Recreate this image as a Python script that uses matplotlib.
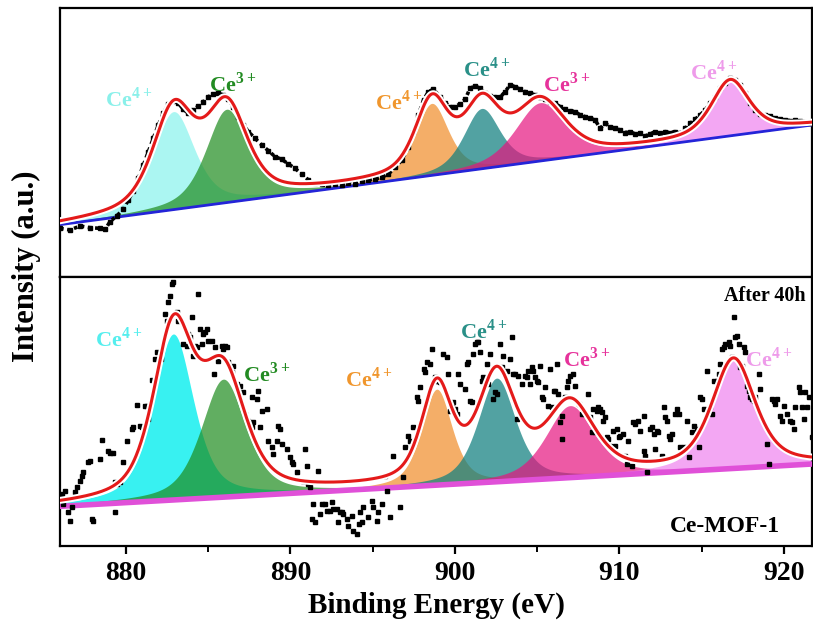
import numpy as np
import matplotlib
matplotlib.use('Agg')
import matplotlib.pyplot as plt
import matplotlib.patheffects as pe

plt.rcParams['font.family'] = ['Liberation Serif', 'DejaVu Serif']
plt.rcParams['font.weight'] = 'bold'
plt.rcParams['mathtext.fontset'] = 'custom'
plt.rcParams['mathtext.rm'] = 'Liberation Serif'
plt.rcParams['mathtext.bf'] = 'Liberation Serif:bold'

# ---------------- data (binding energy in eV, intensity in a.u.) ----------------
x_ends = [876.0, 921.7]

# upper panel: measured points
top_x = [876.00, 876.61, 877.22, 877.82, 878.43, 878.74, 879.04, 879.44, 879.85, 880.15,
         880.46, 880.76, 881.07, 881.37, 881.67, 881.98, 882.28, 882.58, 882.89, 883.19,
         883.50, 883.80, 884.10, 884.41, 884.71, 885.02, 885.32, 885.62, 885.93, 886.23,
         886.54, 886.84, 887.14, 887.45, 887.85, 888.26, 888.66, 889.07, 889.47, 889.88,
         890.28, 890.69, 891.10, 891.50, 891.91, 892.31, 892.72, 893.12, 893.53, 893.93,
         894.34, 894.74, 895.15, 895.55, 895.96, 896.36, 896.77, 897.17, 897.48, 897.78,
         898.09, 898.39, 898.69, 899.10, 899.40, 899.71, 900.01, 900.31, 900.62, 900.92,
         901.23, 901.53, 901.83, 902.14, 902.44, 902.74, 903.05, 903.35, 903.66, 903.96,
         904.26, 904.57, 904.87, 905.18, 905.48, 905.78, 906.09, 906.39, 906.70, 907.00,
         907.30, 907.61, 907.91, 908.22, 908.52, 908.82, 909.13, 909.43, 909.74, 910.04,
         910.34, 910.65, 910.95, 911.26, 911.56, 911.86, 912.17, 912.47, 912.78, 913.08,
         913.38, 913.69, 913.99, 914.30, 914.60, 914.90, 915.21, 915.51, 915.82, 916.12,
         916.42, 916.73, 917.03, 917.33, 917.64, 917.94, 918.25, 918.55, 918.85, 919.16,
         919.46, 919.77, 920.07, 920.38, 920.68, 920.98, 921.29, 921.59]
top_y = [146, 141, 153, 148, 146, 143, 166, 183, 203, 231,
         259, 296, 336, 376, 416, 456, 491, 518, 529, 521,
         503, 491, 501, 513, 526, 541, 549, 551, 546, 533,
         511, 481, 456, 436, 416, 396, 379, 361, 353, 339,
         326, 308, 291, 283, 279, 276, 279, 276, 283, 279,
         289, 291, 294, 299, 309, 329, 351, 389, 436, 486,
         531, 556, 563, 541, 523, 511, 511, 519, 533, 566,
         573, 566, 551, 543, 541, 539, 556, 576, 571, 563,
         556, 551, 546, 541, 533, 526, 521, 511, 503, 499,
         496, 486, 481, 476, 471, 446, 461, 451, 446, 441,
         433, 436, 429, 431, 423, 429, 436, 431, 436, 433,
         436, 431, 446, 461, 473, 486, 501, 521, 541, 566,
         583, 596, 591, 576, 551, 521, 501, 489, 486, 483,
         476, 473, 471, 469, 471, 468, 466, 461]

# lower panel: measured points
bot_x = [876.10, 876.30, 876.20, 876.51, 876.61, 876.71, 876.91, 877.01, 877.22, 877.32,
         877.42, 877.72, 877.82, 877.92, 878.03, 878.43, 878.53, 878.94, 879.04, 879.24,
         879.34, 879.34, 879.44, 879.65, 879.85, 880.05, 880.36, 880.46, 880.66, 880.86,
         880.96, 881.17, 881.27, 881.37, 881.57, 881.77, 881.88, 882.14, 882.38, 882.48,
         882.58, 882.69, 882.79, 882.89, 883.09, 883.19, 883.29, 883.50, 883.70, 883.80,
         883.90, 884.00, 884.10, 884.21, 884.31, 884.41, 884.51, 884.61, 884.71, 884.81,
         884.92, 885.02, 885.22, 885.38, 885.42, 885.62, 885.83, 885.93, 886.03, 886.13,
         886.23, 886.44, 886.54, 886.74, 886.94, 887.14, 887.25, 887.45, 887.65, 887.65,
         887.96, 888.06, 888.26, 888.56, 887.75, 888.16, 889.27, 889.37, 888.66, 888.87,
         888.97, 889.17, 889.47, 889.78, 889.98, 890.08, 890.18, 890.39, 890.79, 890.89,
         890.99, 891.10, 891.20, 891.70, 891.30, 891.40, 891.50, 891.81, 891.91, 892.11,
         892.21, 892.41, 892.51, 892.62, 892.82, 892.92, 893.02, 893.12, 893.22, 893.43,
         893.53, 893.73, 893.83, 894.03, 894.14, 894.24, 894.34, 894.44, 894.74, 894.95,
         895.05, 895.25, 895.35, 895.55, 895.76, 895.86, 896.06, 896.26, 896.67, 896.87,
         896.97, 897.17, 897.28, 897.48, 897.68, 897.78, 897.88, 898.09, 898.19, 898.29,
         898.49, 898.59, 898.80, 898.90, 899.00, 899.10, 899.30, 899.50, 899.60, 899.70,
         899.81, 899.91, 900.01, 900.11, 900.21, 900.31, 900.62, 900.72, 900.82, 900.92,
         901.02, 901.12, 901.22, 901.32, 901.43, 901.53, 901.63, 901.73, 901.83, 901.93,
         902.03, 902.14, 902.34, 902.44, 902.54, 902.74, 902.84, 902.95, 903.15, 903.35,
         903.45, 903.55, 903.66, 903.76, 903.86, 904.06, 904.26, 904.36, 904.47, 904.57,
         904.67, 904.77, 904.87, 904.97, 905.07, 905.18, 905.28, 905.38, 905.48, 905.68,
         905.78, 905.88, 905.99, 906.09, 906.19, 906.29, 906.39, 906.49, 906.49, 906.69,
         906.80, 906.90, 907.00, 907.20, 907.30, 907.51, 907.71, 907.91, 908.11, 908.21,
         908.32, 908.42, 908.52, 908.62, 908.72, 908.82, 908.92, 909.02, 909.13, 909.23,
         909.33, 909.43, 909.53, 909.63, 909.73, 909.84, 909.94, 910.04, 910.24, 910.34,
         910.44, 910.54, 910.75, 910.85, 910.95, 911.15, 911.25, 911.46, 911.46, 911.56,
         911.67, 911.87, 911.97, 912.07, 912.17, 912.27, 912.37, 912.58, 912.68, 912.78,
         912.88, 912.98, 913.08, 913.18, 913.39, 913.49, 913.59, 913.69, 913.89, 914.10,
         914.20, 914.40, 914.50, 914.70, 914.81, 914.91, 915.01, 915.11, 915.31, 915.51,
         915.62, 915.72, 915.92, 916.02, 916.12, 916.22, 916.33, 916.43, 916.63, 916.73,
         916.83, 916.93, 917.03, 917.14, 917.24, 917.34, 917.44, 917.54, 917.64, 917.74,
         917.85, 917.95, 918.05, 918.15, 918.25, 918.45, 918.55, 918.96, 919.06, 919.26,
         919.37, 919.47, 919.57, 919.77, 919.87, 919.97, 920.18, 920.38, 920.48, 920.58,
         920.68, 920.88, 920.99, 921.09, 921.19, 921.29, 921.39, 921.49, 921.70]
bot_y = [156, 164, 126, 101, 76, 116, 161, 176, 196, 211,
         221, 251, 256, 81, 76, 261, 318, 286, 278, 279,
         191, 101, 186, 191, 251, 316, 351, 356, 423, 361,
         356, 419, 421, 381, 498, 561, 581, 561, 696, 676,
         731, 751, 786, 791, 701, 676, 678, 606, 601, 636,
         626, 686, 571, 601, 596, 756, 651, 606, 636, 641,
         651, 616, 616, 516, 596, 556, 601, 591, 601, 596,
         551, 521, 541, 486, 481, 461, 396, 376, 356, 446,
         441, 466, 406, 411, 371, 356, 361, 351, 316, 296,
         276, 316, 306, 291, 266, 251, 246, 221, 196, 291,
         241, 186, 176, 226, 81, 126, 71, 96, 126, 126,
         106, 106, 131, 111, 111, 71, 101, 101, 96, 81,
         61, 91, 46, 36, 66, 101, 71, 116, 86, 136,
         116, 76, 101, 126, 211, 166, 86, 271, 116, 206,
         296, 331, 316, 356, 446, 436, 476, 531, 521, 551,
         546, 591, 506, 496, 496, 491, 576, 566, 516, 406,
         426, 431, 411, 396, 516, 486, 471, 546, 551, 436,
         431, 576, 606, 611, 611, 581, 496, 506, 486, 546,
         486, 576, 441, 461, 456, 606, 536, 571, 526, 561,
         626, 516, 516, 381, 511, 486, 511, 506, 526, 486,
         536, 526, 506, 496, 491, 541, 446, 441, 476, 421,
         531, 416, 466, 466, 546, 456, 371, 391, 321, 446,
         476, 496, 511, 516, 481, 426, 396, 396, 456, 386,
         341, 411, 341, 406, 416, 411, 401, 376, 386, 326,
         321, 301, 296, 346, 301, 351, 326, 331, 336, 271,
         246, 316, 241, 371, 366, 376, 346, 391, 286, 271,
         221, 351, 356, 336, 291, 346, 341, 271, 416, 386,
         376, 331, 321, 336, 396, 411, 396, 296, 296, 376,
         266, 341, 361, 351, 296, 446, 441, 411, 526, 416,
         396, 496, 496, 516, 546, 591, 596, 606, 611, 601,
         566, 686, 626, 631, 606, 536, 541, 596, 581, 481,
         466, 446, 441, 436, 446, 516, 471, 306, 246, 441,
         436, 426, 441, 391, 376, 421, 396, 376, 371, 351,
         416, 476, 461, 416, 381, 461, 416, 446, 326]

# linear backgrounds (value at each end of the energy window)
top_base = [157, 456]
bot_base = [119, 246]

# fitted components: Ce 3d peaks
peak_names = ['Ce$^{\\mathbf{4+}}$', 'Ce$^{\\mathbf{3+}}$', 'Ce$^{\\mathbf{4+}}$',
              'Ce$^{\\mathbf{4+}}$', 'Ce$^{\\mathbf{3+}}$', 'Ce$^{\\mathbf{4+}}$']
top_center = [882.90, 886.13, 898.59, 901.63, 905.18, 916.73]
top_height = [294, 280, 216, 181, 175, 165]
top_fwhm = [3.0, 3.0, 2.4, 2.6, 3.6, 2.7]
bot_center = [882.89, 885.93, 898.90, 902.54, 907.00, 916.93]
bot_height = [498, 354, 288, 311, 216, 325]
bot_fwhm = [2.9, 3.2, 2.2, 2.7, 3.5, 3.1]

# label anchors (left of "Ce", baseline)
top_lab_x = [878.74, 885.06, 895.15, 900.52, 905.38, 914.30]
top_lab_y = [512, 557, 502, 600, 557, 592]
bot_lab_x = [878.13, 887.12, 893.33, 900.31, 906.59, 917.64]
bot_lab_y = [597, 492, 477, 622, 537, 537]

fill_top = ['#66F0E8', '#1E8C1E', '#F08C28', '#0F7F7F', '#E6147F', '#EE82EE']
fill_bot = ['#00EEEE', '#1E8C1E', '#F08C28', '#0F7F7F', '#E6147F', '#EE82EE']
alpha_top = [0.55, 0.7, 0.7, 0.72, 0.7, 0.7]
alpha_bot = [0.78, 0.7, 0.7, 0.72, 0.7, 0.7]
lab_top = ['#8AF0EA', '#228B22', '#F0962D', '#2A9088', '#E6329B', '#EE9BEA']
lab_bot = ['#55EEEE', '#228B22', '#F0962D', '#2A9088', '#E6329B', '#EE9BEA']


def pvoigt(x, c, h, w, eta=0.55):
    g = np.exp(-4 * np.log(2) * ((x - c) / w) ** 2)
    l = 1.0 / (1 + 4 * ((x - c) / w) ** 2)
    return h * (eta * l + (1 - eta) * g)


def draw_panel(ax, base_ends, cen, hgt, fw, fills, alphas, base_col, base_lw,
               px, py, dots_line, lab_x, lab_y, lab_c):
    xg = np.linspace(x_ends[0], x_ends[1], 900)
    base = np.interp(xg, x_ends, base_ends)
    total = base.copy()
    for i in range(len(cen)):
        comp = pvoigt(xg, cen[i], hgt[i], fw[i])
        total += comp
        ax.fill_between(xg, base, base + comp, color=fills[i], alpha=alphas[i], lw=0, zorder=2)
    ax.plot(xg, base, color=base_col, lw=base_lw, zorder=3)
    if dots_line:
        ax.plot(px, py, color='k', ls=(0, (1, 1.0)), lw=2.6, zorder=4)
        ax.plot(px, py, 's', color='k', ms=2.5, zorder=4)
    else:
        ax.plot(px, py, 's', color='k', ms=2.3, ls='none', zorder=4)
    ax.plot(xg, total, color='#E41A1A', lw=2.2, zorder=5,
            path_effects=[pe.Stroke(linewidth=5, foreground='white'), pe.Normal()])
    for i in range(len(lab_x)):
        ax.text(lab_x[i], lab_y[i], peak_names[i], color=lab_c[i], fontsize=16,
                fontweight='bold', ha='left', va='baseline', zorder=6)
    ax.set_xlim(x_ends)
    ax.set_ylim(0, 807)
    ax.set_yticks([])
    for s in ax.spines.values():
        s.set_linewidth(1.6)


fig = plt.figure(figsize=(8.13, 6.33), dpi=100)
ax1 = fig.add_axes([0.0738, 0.5624, 0.9250, 0.4250])
ax2 = fig.add_axes([0.0738, 0.1374, 0.9250, 0.4250])

draw_panel(ax1, top_base, top_center, top_height, top_fwhm, fill_top, alpha_top,
           '#2424D8', 2.0, top_x, top_y, True, top_lab_x, top_lab_y, lab_top)
draw_panel(ax2, bot_base, bot_center, bot_height, bot_fwhm, fill_bot, alpha_bot,
           '#E050D8', 4.0, bot_x, bot_y, False, bot_lab_x, bot_lab_y, lab_bot)

ax1.tick_params(axis='x', which='both', bottom=False, labelbottom=False)

ax2.set_xticks([880, 890, 900, 910, 920])
ax2.set_xticks([885, 895, 905, 915], minor=True)
ax2.tick_params(axis='x', which='major', direction='out', length=6, width=1.6,
                labelsize=20, pad=5)
ax2.tick_params(axis='x', which='minor', direction='out', length=4, width=1.4)
ax2.set_xlabel('Binding Energy (eV)', fontsize=21, fontweight='bold', labelpad=4)

ax2.text(0.992, 0.93, 'After 40h', transform=ax2.transAxes, ha='right', va='center',
         fontsize=14.5, fontweight='bold')
ax2.text(0.957, 0.073, 'Ce-MOF-1', transform=ax2.transAxes, ha='right', va='center',
         fontsize=17, fontweight='bold')

fig.text(0.032, 0.58, 'Intensity (a.u.)', rotation=90, ha='center', va='center',
         fontsize=22, fontweight='bold')

fig.savefig('out.png', dpi=100)
